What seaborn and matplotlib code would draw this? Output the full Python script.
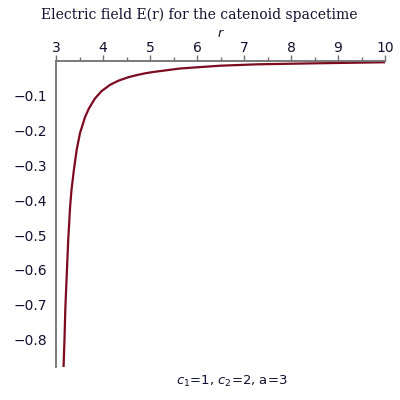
import matplotlib
matplotlib.use("Agg")
import matplotlib.pyplot as plt
import seaborn as sns
import pandas as pd
from matplotlib.ticker import MultipleLocator

r_values = [3.16, 3.18, 3.20, 3.23, 3.26, 3.30, 3.33, 3.38, 3.44, 3.51, 3.62,
            3.70, 3.83, 3.97, 4.15, 4.33, 4.54, 4.75, 4.89, 5.07, 5.64, 6.49,
            7.27, 8.55, 10.0]
E_values = [-0.883, -0.802, -0.706, -0.610, -0.514, -0.419, -0.37, -0.313,
            -0.255, -0.207, -0.160, -0.136, -0.107, -0.086, -0.068, -0.056,
            -0.046, -0.039, -0.035, -0.031, -0.021, -0.013, -0.009, -0.006,
            -0.003]
x_ticks = [3, 4, 5, 6, 7, 8, 9, 10]
y_ticks = [-0.1, -0.2, -0.3, -0.4, -0.5, -0.6, -0.7, -0.8]
title = "Electric field E(r) for the catenoid spacetime"
caption = r"$c_{\mathit{1}}$=1, $c_{\mathit{2}}$=2, a=3"

sns.set_style("white")
plt.rcParams['font.family'] = ['DejaVu Sans']
plt.rcParams['mathtext.fontset'] = 'dejavusans'

df = pd.DataFrame({"r": r_values, "E": E_values})

fig = plt.figure(figsize=(4, 4), dpi=100)
ax = fig.add_axes([0.14, 0.083, 0.8225, 0.764])
sns.lineplot(data=df, x="r", y="E", ax=ax, color="#7d0a1e", linewidth=1.6)

ax.set_xlim(3, 10)
ax.set_ylim(-0.879, 0)
axis_col = "#707070"
for s in ["right", "bottom"]:
    ax.spines[s].set_visible(False)
for s in ["top", "left"]:
    ax.spines[s].set_color(axis_col)
    ax.spines[s].set_linewidth(1.3)

ax.xaxis.tick_top()
ax.xaxis.set_label_position("top")
ax.set_xticks(x_ticks)
ax.set_xticklabels([str(t) for t in x_ticks])
ax.xaxis.set_minor_locator(MultipleLocator(0.5))
ax.set_yticks(y_ticks)
ax.set_yticklabels(["\u2212" + f"{abs(t):.1f}" for t in y_ticks])
ax.yaxis.set_minor_locator(MultipleLocator(0.05))
ax.tick_params(axis="both", which="major", length=4, width=1, color=axis_col,
               labelsize=10, labelcolor="#101030", pad=2.5, direction="out")
ax.tick_params(axis="x", which="major", pad=0.5)
ax.tick_params(axis="both", which="minor", length=3, width=1, color=axis_col,
               direction="out")
ax.set_xlabel("r", fontsize=9, style="italic", labelpad=3, color="#101030")
ax.set_ylabel("")

fig.text(0.499, 0.962, title, ha="center", va="center", fontsize=10,
         family="DejaVu Serif", color="#101030")
fig.text(0.58, 0.047, caption, ha="center", va="center", fontsize=9.5,
         color="#101030")

fig.savefig("out.png", dpi=100)
